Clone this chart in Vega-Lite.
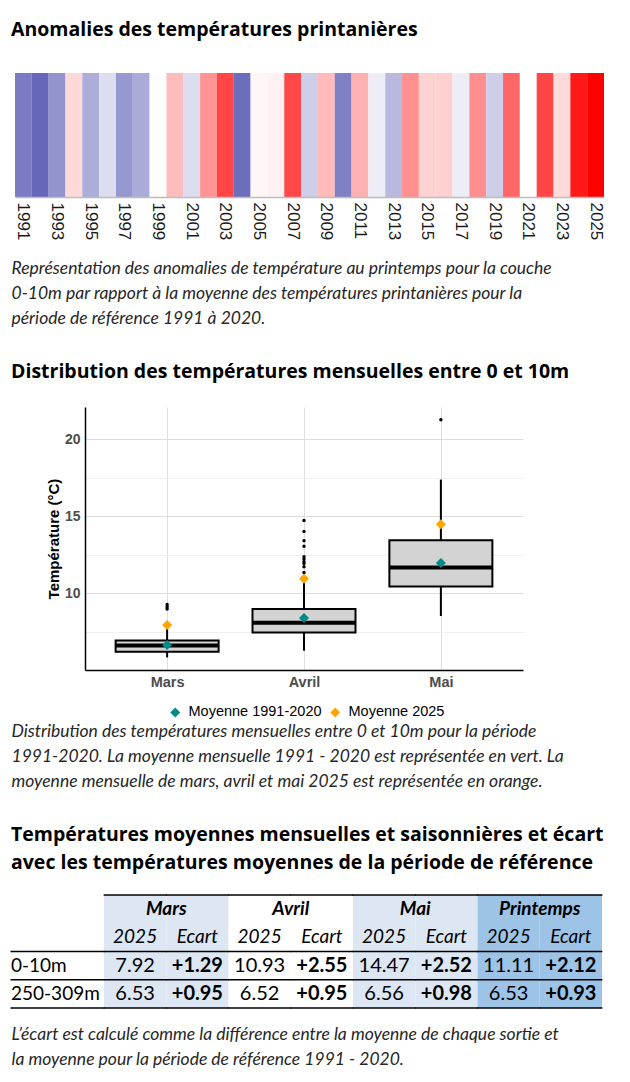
{
  "$schema": "https://vega.github.io/schema/vega-lite/v6.json",
  "background": "white",
  "padding": {"left": 10, "top": 19, "right": 5, "bottom": 5},
  "config": {"view": {"stroke": null}},
  "datasets": {
    "stripes": [
      {"year": 1991, "anomaly": -1.10}, {"year": 1992, "anomaly": -1.26}, {"year": 1993, "anomaly": -0.90},
      {"year": 1994, "anomaly": 0.32}, {"year": 1995, "anomaly": -0.68}, {"year": 1996, "anomaly": -0.28},
      {"year": 1997, "anomaly": -0.86}, {"year": 1998, "anomaly": -0.70}, {"year": 1999, "anomaly": -0.02},
      {"year": 2000, "anomaly": 0.56}, {"year": 2001, "anomaly": -0.28}, {"year": 2002, "anomaly": 0.89},
      {"year": 2003, "anomaly": 1.55}, {"year": 2004, "anomaly": -1.21}, {"year": 2005, "anomaly": 0.07},
      {"year": 2006, "anomaly": 0.12}, {"year": 2007, "anomaly": 1.51}, {"year": 2008, "anomaly": -0.41},
      {"year": 2009, "anomaly": 0.57}, {"year": 2010, "anomaly": -1.06}, {"year": 2011, "anomaly": 0.66},
      {"year": 2012, "anomaly": -0.15}, {"year": 2013, "anomaly": -0.58}, {"year": 2014, "anomaly": 0.92},
      {"year": 2015, "anomaly": 0.37}, {"year": 2016, "anomaly": 0.39}, {"year": 2017, "anomaly": -0.15},
      {"year": 2018, "anomaly": 0.94}, {"year": 2019, "anomaly": -0.41}, {"year": 2020, "anomaly": 1.27},
      {"year": 2021, "anomaly": 0.0}, {"year": 2022, "anomaly": 1.55}, {"year": 2023, "anomaly": 0.31},
      {"year": 2024, "anomaly": 1.91}, {"year": 2025, "anomaly": 2.12}
    ],
    "box": [
      {"month": "Mars", "lower": 5.82, "q1": 6.19, "median": 6.60, "q3": 6.92, "upper": 7.95},
      {"month": "Avril", "lower": 6.25, "q1": 7.44, "median": 8.07, "q3": 8.96, "upper": 11.1},
      {"month": "Mai", "lower": 8.51, "q1": 10.43, "median": 11.66, "q3": 13.44, "upper": 17.38}
    ],
    "outliers": [
      {"month": "Mars", "value": 9.26}, {"month": "Mars", "value": 9.11}, {"month": "Mars", "value": 8.97},
      {"month": "Avril", "value": 14.72}, {"month": "Avril", "value": 14.0}, {"month": "Avril", "value": 13.4},
      {"month": "Avril", "value": 13.05}, {"month": "Avril", "value": 12.36}, {"month": "Avril", "value": 12.21},
      {"month": "Avril", "value": 12.05}, {"month": "Avril", "value": 11.92}, {"month": "Avril", "value": 11.71},
      {"month": "Avril", "value": 11.34},
      {"month": "Mai", "value": 21.27}
    ],
    "means": [
      {"month": "Mars", "series": "Moyenne 1991-2020", "value": 6.63},
      {"month": "Avril", "series": "Moyenne 1991-2020", "value": 8.38},
      {"month": "Mai", "series": "Moyenne 1991-2020", "value": 11.95},
      {"month": "Mars", "series": "Moyenne 2025", "value": 7.92},
      {"month": "Avril", "series": "Moyenne 2025", "value": 10.93},
      {"month": "Mai", "series": "Moyenne 2025", "value": 14.47}
    ],
    "tableBg": [
      {"col": "Mars|2025", "grp": "Mars"}, {"col": "Mars|Ecart", "grp": "Mars"},
      {"col": "Avril|2025", "grp": "Avril"}, {"col": "Avril|Ecart", "grp": "Avril"},
      {"col": "Mai|2025", "grp": "Mai"}, {"col": "Mai|Ecart", "grp": "Mai"},
      {"col": "Printemps|2025", "grp": "Printemps"}, {"col": "Printemps|Ecart", "grp": "Printemps"}
    ],
    "tableHdr": [
      {"col": "Mars|Ecart", "row": "h1", "grp": "Mars"},
      {"col": "Avril|Ecart", "row": "h1", "grp": "Avril"},
      {"col": "Mai|Ecart", "row": "h1", "grp": "Mai"},
      {"col": "Printemps|Ecart", "row": "h1", "grp": "Printemps"}
    ],
    "tableCells": [
      {"row": "h2", "col": "Mars|2025", "kind": "sub", "txt": "2025"},
      {"row": "h2", "col": "Mars|Ecart", "kind": "sub", "txt": "Ecart"},
      {"row": "h2", "col": "Avril|2025", "kind": "sub", "txt": "2025"},
      {"row": "h2", "col": "Avril|Ecart", "kind": "sub", "txt": "Ecart"},
      {"row": "h2", "col": "Mai|2025", "kind": "sub", "txt": "2025"},
      {"row": "h2", "col": "Mai|Ecart", "kind": "sub", "txt": "Ecart"},
      {"row": "h2", "col": "Printemps|2025", "kind": "sub", "txt": "2025"},
      {"row": "h2", "col": "Printemps|Ecart", "kind": "sub", "txt": "Ecart"},
      {"row": "r1", "col": "Mars|2025", "kind": "val", "txt": "7.92"},
      {"row": "r1", "col": "Mars|Ecart", "kind": "ecart", "txt": "+1.29"},
      {"row": "r1", "col": "Avril|2025", "kind": "val", "txt": "10.93"},
      {"row": "r1", "col": "Avril|Ecart", "kind": "ecart", "txt": "+2.55"},
      {"row": "r1", "col": "Mai|2025", "kind": "val", "txt": "14.47"},
      {"row": "r1", "col": "Mai|Ecart", "kind": "ecart", "txt": "+2.52"},
      {"row": "r1", "col": "Printemps|2025", "kind": "val", "txt": "11.11"},
      {"row": "r1", "col": "Printemps|Ecart", "kind": "ecart", "txt": "+2.12"},
      {"row": "r2", "col": "Mars|2025", "kind": "val", "txt": "6.53"},
      {"row": "r2", "col": "Mars|Ecart", "kind": "ecart", "txt": "+0.95"},
      {"row": "r2", "col": "Avril|2025", "kind": "val", "txt": "6.52"},
      {"row": "r2", "col": "Avril|Ecart", "kind": "ecart", "txt": "+0.95"},
      {"row": "r2", "col": "Mai|2025", "kind": "val", "txt": "6.56"},
      {"row": "r2", "col": "Mai|Ecart", "kind": "ecart", "txt": "+0.98"},
      {"row": "r2", "col": "Printemps|2025", "kind": "val", "txt": "6.53"},
      {"row": "r2", "col": "Printemps|Ecart", "kind": "ecart", "txt": "+0.93"}
    ],
    "rowLabels": [
      {"col": "label", "row": "r1", "label": "0-10m"},
      {"col": "label", "row": "r2", "label": "250-309m"}
    ],
    "labelCol": [{"col": "label"}]
  },
  "concat": [
    {
      "width": 519,
      "height": 124,
      "title": {"text": "Anomalies des températures printanières", "anchor": "start", "frame": "group", "dx": -74, "font": "Open Sans", "fontSize": 19.5, "fontWeight": "bold", "color": "#000000", "offset": 33},
      "data": {"name": "stripes"},
      "mark": {"type": "rect"},
      "encoding": {
        "x": {
          "field": "year", "type": "ordinal",
          "scale": {"paddingInner": 0, "paddingOuter": 0, "range": [-70, 519]},
          "axis": {
            "labelAngle": 90, "labelExpr": "datum.value % 2 === 1 ? datum.label : ''", "labelOverlap": false,
            "labelFont": "Liberation Sans", "labelFontSize": 17, "labelColor": "#1a1a1a", "labelPadding": 5,
            "ticks": false, "domainColor": "#bdbdbd", "domainWidth": 1.5,
            "title": ["Représentation des anomalies de température au printemps pour la couche", "0-10m par rapport à la moyenne des températures printanières pour la", "période de référence 1991 à 2020."],
            "titleFont": "Lato", "titleFontStyle": "italic", "titleFontWeight": "normal", "titleFontSize": 17.5, "titleLineHeight": 25, "titleColor": "#262626",
            "titleAnchor": "start", "titleAlign": "left", "titleBaseline": "top", "titleX": -74, "titleY": 62
          }
        },
        "color": {"field": "anomaly", "type": "quantitative", "scale": {"domain": [-2.12, 0, 2.12], "range": ["#00008b", "#ffffff", "#ff0000"], "interpolate": "rgb"}, "legend": null}
      }
    },
    {
      "width": 438,
      "height": 263,
      "title": {"text": "Distribution des températures mensuelles entre 0 et 10m", "anchor": "start", "frame": "group", "dx": -74, "font": "Open Sans", "fontSize": 19.5, "fontWeight": "bold", "color": "#000000", "offset": 25},
      "layer": [
        {
          "data": {"name": "box"},
          "mark": {"type": "rule", "strokeWidth": 2, "color": "#000000"},
          "encoding": {
            "x": {
              "field": "month", "type": "nominal", "sort": ["Mars", "Avril", "Mai"],
              "scale": {"type": "point", "padding": 0.6},
              "axis": {
                "labelAngle": 0, "labelFont": "Liberation Sans", "labelFontWeight": "bold", "labelFontSize": 14.5, "labelColor": "#4d4d4d", "labelPadding": 5,
                "ticks": false, "domainColor": "#000000", "domainWidth": 1.5, "grid": true, "gridColor": "#dedede",
                "title": ["Distribution des températures mensuelles entre 0 et 10m pour la période", "1991-2020. La moyenne mensuelle 1991 - 2020 est représentée en vert. La", "moyenne mensuelle de mars, avril et mai 2025 est représentée en orange."],
                "titleFont": "Lato", "titleFontStyle": "italic", "titleFontWeight": "normal", "titleFontSize": 17.5, "titleLineHeight": 25, "titleColor": "#262626",
                "titleAnchor": "start", "titleAlign": "left", "titleBaseline": "top", "titleX": -74, "titleY": 52
              }
            },
            "y": {
              "field": "lower", "type": "quantitative", "title": "Température (°C)",
              "scale": {"domain": [5.0, 22.1], "nice": false, "zero": false},
              "axis": {
                "values": [7.5, 10, 12.5, 15, 17.5, 20],
                "labelExpr": "datum.value % 5 === 0 ? datum.label : ''",
                "labelFont": "Liberation Sans", "labelFontWeight": "bold", "labelFontSize": 14, "labelColor": "#4d4d4d", "labelPadding": 5,
                "ticks": false, "domainColor": "#000000", "domainWidth": 1.5,
                "gridColor": {"condition": {"test": "datum.value % 5 === 0", "value": "#dcdcdc"}, "value": "#f0f0f0"},
                "titleFont": "Liberation Sans", "titleFontWeight": "bold", "titleFontSize": 15, "titleColor": "#000000", "titlePadding": 3
              }
            },
            "y2": {"field": "upper"}
          }
        },
        {
          "data": {"name": "box"},
          "mark": {"type": "bar", "size": 103, "fill": "#d3d3d3", "stroke": "#000000", "strokeWidth": 2},
          "encoding": {
            "x": {"field": "month", "type": "nominal", "sort": ["Mars", "Avril", "Mai"]},
            "y": {"field": "q1", "type": "quantitative", "title": "Température (°C)"},
            "y2": {"field": "q3"}
          }
        },
        {
          "data": {"name": "box"},
          "mark": {"type": "tick", "size": 103, "thickness": 4, "color": "#000000", "opacity": 1},
          "encoding": {
            "x": {"field": "month", "type": "nominal", "sort": ["Mars", "Avril", "Mai"]},
            "y": {"field": "median", "type": "quantitative", "title": "Température (°C)"}
          }
        },
        {
          "data": {"name": "outliers"},
          "mark": {"type": "circle", "size": 12, "color": "#000000", "opacity": 1},
          "encoding": {
            "x": {"field": "month", "type": "nominal", "sort": ["Mars", "Avril", "Mai"]},
            "y": {"field": "value", "type": "quantitative", "title": "Température (°C)"}
          }
        },
        {
          "data": {"name": "means"},
          "mark": {"type": "point", "shape": "diamond", "filled": true, "size": 100, "opacity": 1},
          "encoding": {
            "x": {"field": "month", "type": "nominal", "sort": ["Mars", "Avril", "Mai"]},
            "y": {"field": "value", "type": "quantitative", "title": "Température (°C)"},
            "color": {
              "field": "series", "type": "nominal",
              "scale": {"domain": ["Moyenne 1991-2020", "Moyenne 2025"], "range": ["#008b8b", "#ffa500"]},
              "legend": {"title": null, "orient": "none", "legendX": 83, "legendY": 298, "direction": "horizontal", "symbolType": "diamond", "symbolSize": 100, "labelFont": "Liberation Sans", "labelFontSize": 14.5, "labelColor": "#000000", "columnPadding": 6, "labelOffset": 6, "padding": 0}
            }
          }
        }
      ]
    },
    {
      "width": 517,
      "height": 113,
      "title": {"text": ["Températures moyennes mensuelles et saisonnières et écart", "avec les températures moyennes de la période de référence"], "anchor": "start", "frame": "group", "dx": -74, "font": "Open Sans", "fontSize": 19.5, "fontWeight": "bold", "color": "#000000", "lineHeight": 28, "offset": 21},
      "resolve": {"scale": {"x": "independent"}},
      "layer": [
        {
          "layer": [
            {
              "data": {"name": "tableBg"},
              "mark": {"type": "rect"},
              "encoding": {
                "x": {"field": "col", "type": "nominal", "sort": null, "scale": {"domain": ["Mars|2025", "Mars|Ecart", "Avril|2025", "Avril|Ecart", "Mai|2025", "Mai|Ecart", "Printemps|2025", "Printemps|Ecart"], "range": [19, 517], "paddingInner": 0, "paddingOuter": 0}, "axis": null},
                "color": {"field": "grp", "type": "nominal", "scale": {"domain": ["Mars", "Avril", "Mai", "Printemps"], "range": ["#dde7f3", "#ffffff", "#dde7f3", "#9dc3e6"]}, "legend": null}
              }
            },
            {
              "data": {"name": "tableHdr"},
              "mark": {"type": "text", "align": "center", "baseline": "middle", "font": "Lato", "fontSize": 19, "fontWeight": "bold", "fontStyle": "italic", "color": "#000000"},
              "encoding": {
                "x": {"field": "col", "type": "nominal", "bandPosition": 0},
                "y": {"field": "row", "type": "nominal", "scale": {"domain": ["h1", "h2", "r1", "r2"], "paddingInner": 0, "paddingOuter": 0}, "axis": null},
                "text": {"field": "grp"}
              }
            },
            {
              "data": {"name": "tableCells"},
              "transform": [{"filter": "datum.kind === 'sub'"}],
              "mark": {"type": "text", "align": "center", "baseline": "middle", "font": "Lato", "fontSize": 19, "fontStyle": "italic", "color": "#000000"},
              "encoding": {
                "x": {"field": "col", "type": "nominal"},
                "y": {"field": "row", "type": "nominal"},
                "text": {"field": "txt"}
              }
            },
            {
              "data": {"name": "tableCells"},
              "transform": [{"filter": "datum.kind === 'val'"}],
              "mark": {"type": "text", "align": "center", "baseline": "middle", "font": "Lato", "fontSize": 20, "color": "#000000"},
              "encoding": {
                "x": {"field": "col", "type": "nominal"},
                "y": {"field": "row", "type": "nominal"},
                "text": {"field": "txt"}
              }
            },
            {
              "data": {"name": "tableCells"},
              "transform": [{"filter": "datum.kind === 'ecart'"}],
              "mark": {"type": "text", "align": "center", "baseline": "middle", "font": "Lato", "fontSize": 20, "fontWeight": "bold", "color": "#000000"},
              "encoding": {
                "x": {"field": "col", "type": "nominal"},
                "y": {"field": "row", "type": "nominal"},
                "text": {"field": "txt"}
              }
            },
            {
              "data": {"name": "tableBg"},
              "mark": {"type": "tick", "orient": "horizontal", "size": 63, "thickness": 1.5, "color": "#000000", "opacity": 1},
              "encoding": {
                "x": {"field": "col", "type": "nominal"},
                "y": {"datum": "h1", "type": "nominal", "bandPosition": 0}
              }
            },
            {
              "data": {"name": "tableBg"},
              "mark": {"type": "tick", "orient": "horizontal", "size": 63, "thickness": 1.5, "color": "#000000", "opacity": 1},
              "encoding": {
                "x": {"field": "col", "type": "nominal"},
                "y": {"datum": "r1", "type": "nominal", "bandPosition": 0}
              }
            },
            {
              "data": {"name": "tableBg"},
              "mark": {"type": "tick", "orient": "horizontal", "size": 63, "thickness": 1.5, "color": "#000000", "opacity": 1},
              "encoding": {
                "x": {"field": "col", "type": "nominal"},
                "y": {"datum": "r2", "type": "nominal", "bandPosition": 0}
              }
            },
            {
              "data": {"name": "tableBg"},
              "mark": {"type": "tick", "orient": "horizontal", "size": 63, "thickness": 1.5, "color": "#000000", "opacity": 1},
              "encoding": {
                "x": {"field": "col", "type": "nominal"},
                "y": {"datum": "r2", "type": "nominal", "bandPosition": 1}
              }
            }
          ]
        },
        {
          "layer": [
            {
              "data": {"name": "rowLabels"},
              "mark": {"type": "text", "align": "left", "baseline": "middle", "font": "Lato", "fontSize": 19, "color": "#000000"},
              "encoding": {
                "x": {
                  "field": "col", "type": "nominal", "bandPosition": 0,
                  "scale": {"domain": ["label"], "range": [-74, 19], "paddingInner": 0, "paddingOuter": 0},
                  "axis": {
                    "orient": "bottom", "labels": false, "ticks": false, "domain": false,
                    "title": ["L’écart est calculé comme la différence entre la moyenne de chaque sortie et", "la moyenne pour la période de référence 1991 - 2020."],
                    "titleFont": "Lato", "titleFontStyle": "italic", "titleFontWeight": "normal", "titleFontSize": 17.5, "titleLineHeight": 25, "titleColor": "#262626",
                    "titleAnchor": "start", "titleAlign": "left", "titleBaseline": "top", "titleX": -74, "titleY": 17
                  }
                },
                "y": {"field": "row", "type": "nominal"},
                "text": {"field": "label"}
              }
            },
            {
              "data": {"name": "labelCol"},
              "mark": {"type": "tick", "orient": "horizontal", "size": 94, "thickness": 1.5, "color": "#000000", "opacity": 1},
              "encoding": {
                "x": {"field": "col", "type": "nominal"},
                "y": {"datum": "r1", "type": "nominal", "bandPosition": 0}
              }
            },
            {
              "data": {"name": "labelCol"},
              "mark": {"type": "tick", "orient": "horizontal", "size": 94, "thickness": 1.5, "color": "#000000", "opacity": 1},
              "encoding": {
                "x": {"field": "col", "type": "nominal"},
                "y": {"datum": "r2", "type": "nominal", "bandPosition": 0}
              }
            },
            {
              "data": {"name": "labelCol"},
              "mark": {"type": "tick", "orient": "horizontal", "size": 94, "thickness": 1.5, "color": "#000000", "opacity": 1},
              "encoding": {
                "x": {"field": "col", "type": "nominal"},
                "y": {"datum": "r2", "type": "nominal", "bandPosition": 1}
              }
            }
          ]
        }
      ]
    }
  ],
  "columns": 1,
  "spacing": 34
}
